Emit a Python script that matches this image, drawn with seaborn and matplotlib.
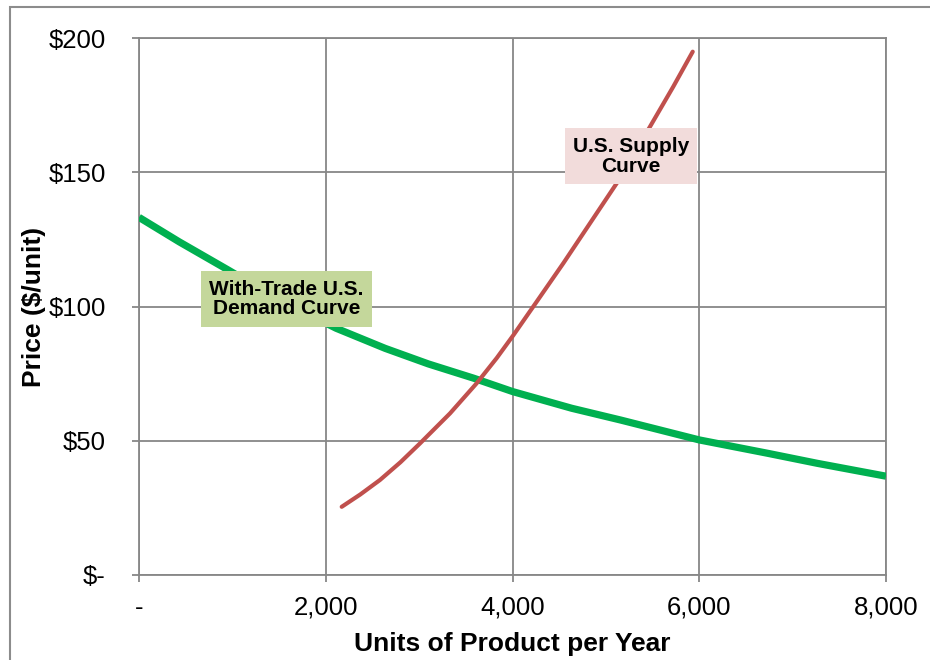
import matplotlib
matplotlib.use("Agg")
import matplotlib.pyplot as plt
import matplotlib.patches as mpatches
from matplotlib.ticker import FuncFormatter, FixedLocator
import seaborn as sns
import pandas as pd

# ---- data ----
demand_units = [0, 430, 955, 1500, 2111, 2637, 3100, 3584, 4003, 4634,
                5160, 6001, 6737, 7263, 8000]
demand_price = [133.2, 124.1, 113.6, 102.5, 91.9, 84.4, 78.6, 73.3, 68.3, 62.1,
                57.7, 50.3, 45.3, 41.6, 36.8]

supply_units = [2171, 2370, 2581, 2800, 3009, 3331, 3616, 3831, 4009, 4259,
                4544, 4830, 5116, 5473, 5722, 5930]
supply_price = [25.4, 30.0, 35.4, 42.0, 49.0, 60.2, 71.4, 80.8, 89.3, 101.8,
                116.1, 131.0, 145.9, 167.0, 181.9, 194.9]

x_ticks = [0, 2000, 4000, 6000, 8000]
y_ticks = [0, 50, 100, 150, 200]

demand_label = "With-Trade U.S.\nDemand Curve"
supply_label = "U.S. Supply\nCurve"
x_title = "Units of Product per Year"
y_title = "Price ($/unit)"

sns.set_theme(style="white")
plt.rcParams['font.family'] = ['Liberation Sans', 'DejaVu Sans']
plt.rcParams['text.color'] = 'black'
plt.rcParams['axes.labelcolor'] = 'black'

fig = plt.figure(figsize=(9.3, 6.6), dpi=100)
ax = fig.add_axes([139/930, 1-575/660, (886-139)/930, (575-38)/660])

demand_df = pd.DataFrame({"units": demand_units, "price": demand_price})
supply_df = pd.DataFrame({"units": supply_units, "price": supply_price})

grid_c = "#878787"
sns.lineplot(data=demand_df, x="units", y="price", ax=ax, color="#00B050",
             linewidth=5.2, solid_capstyle="butt", solid_joinstyle="round",
             zorder=3, sort=False)
sns.lineplot(data=supply_df, x="units", y="price", ax=ax, color="#C0504D",
             linewidth=3.0, solid_capstyle="round", solid_joinstyle="round",
             zorder=4, sort=False)

ax.set_xlim(0, 8000)
ax.set_ylim(0, 200)
ax.xaxis.set_major_locator(FixedLocator(x_ticks))
ax.yaxis.set_major_locator(FixedLocator(y_ticks))
ax.xaxis.set_major_formatter(FuncFormatter(lambda v, p: "-" if v == 0 else f"{int(v):,}"))
ax.yaxis.set_major_formatter(FuncFormatter(lambda v, p: "$-" if v == 0 else f"${int(v)}"))

ax.grid(True, color=grid_c, linewidth=1.3)
ax.set_axisbelow(True)
for s in ax.spines.values():
    s.set_visible(True)
    s.set_color(grid_c)
    s.set_linewidth(1.3)

ax.tick_params(axis="both", which="major", labelsize=18.5, labelcolor="black",
               length=5, width=1.3, color=grid_c, direction="out",
               left=True, bottom=True)
ax.tick_params(axis="x", pad=10)
ax.tick_params(axis="y", pad=19)

ax.set_xlabel(x_title, fontsize=19, fontweight="bold", labelpad=9)
ax.set_ylabel(y_title, fontsize=19, fontweight="bold", labelpad=2)

ax.text(1580, 102.8, demand_label, fontsize=15, fontweight="bold", ha="center",
        va="center", linespacing=1.05, zorder=6, color="black",
        bbox=dict(boxstyle="square,pad=0.4", facecolor="#C4D79B", edgecolor="none"))
ax.text(5269, 156, supply_label, fontsize=15, fontweight="bold", ha="center",
        va="center", linespacing=1.05, zorder=6, color="black",
        bbox=dict(boxstyle="square,pad=0.4", facecolor="#F2DCDB", edgecolor="none"))

# outer chart frame (left and top edges visible)
frame = mpatches.Rectangle((10/930, -0.1), 1.2, 1.1 - 7/660, transform=fig.transFigure,
                           fill=False, edgecolor="#8c8c8c", linewidth=1.5, zorder=0)
fig.patches.append(frame)

fig.savefig("out.png", dpi=100)
